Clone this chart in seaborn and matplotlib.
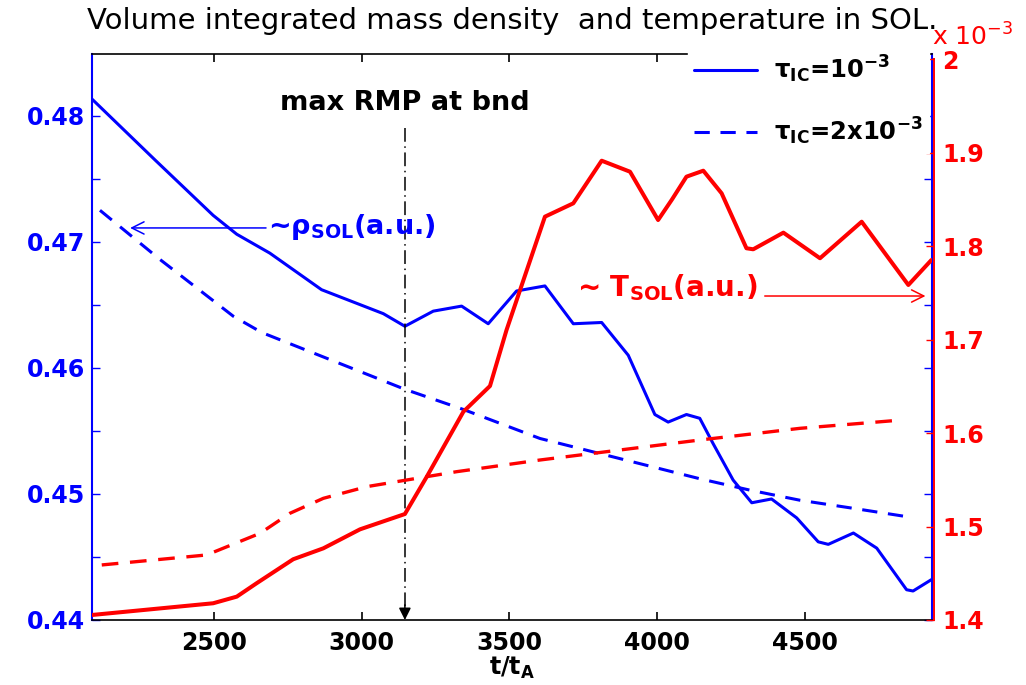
import matplotlib
matplotlib.use('Agg')
import matplotlib.pyplot as plt
import seaborn as sns
from matplotlib.ticker import MultipleLocator, FuncFormatter, FixedLocator

# ---------------- data ----------------
# density, tau_IC = 1e-3 (solid blue)
t_rho1 = [2088, 2300, 2497, 2577, 2689, 2864, 3073, 3146, 3242, 3338, 3428, 3524,
          3620, 3716, 3812, 3902, 3992, 4037, 4099, 4144, 4189, 4257, 4320, 4387,
          4472, 4545, 4579, 4664, 4743, 4844, 4866, 4928]
rho1 = [0.4813, 0.4765, 0.4721, 0.4706, 0.4691, 0.4662, 0.4643, 0.4633, 0.4645, 0.4649,
        0.4635, 0.4661, 0.4665, 0.4635, 0.4636, 0.4610, 0.4563, 0.4557, 0.4563, 0.4560,
        0.4540, 0.4511, 0.4493, 0.4496, 0.4481, 0.4462, 0.4460, 0.4469, 0.4457, 0.4424,
        0.4423, 0.4432]
# density, tau_IC = 2e-3 (dashed blue)
t_rho2 = [2114, 2317, 2565, 2662, 3146, 3344, 3603, 4145, 4314, 4483, 4652, 4844]
rho2 = [0.4725, 0.4686, 0.4641, 0.4628, 0.4583, 0.4567, 0.4544, 0.4512, 0.4503,
        0.4495, 0.4489, 0.4482]
# temperature (x1e-3), tau_IC = 1e-3 (solid red)
t_T1 = [2088, 2497, 2577, 2644, 2768, 2870, 2994, 3146, 3220, 3344, 3434, 3490, 3620,
        3716, 3812, 3908, 4003, 4050, 4099, 4156, 4218, 4302, 4325, 4427, 4551, 4692,
        4850, 4928]
T1 = [1.4054, 1.4179, 1.4250, 1.4393, 1.4650, 1.4767, 1.4970, 1.5134, 1.5533, 1.6229,
      1.6504, 1.7103, 1.8316, 1.8459, 1.8915, 1.8797, 1.8280, 1.8500, 1.8744, 1.8808,
      1.8566, 1.7978, 1.7967, 1.8145, 1.7871, 1.8262, 1.7585, 1.7852]
# temperature (x1e-3), tau_IC = 2e-3 (dashed red)
t_T2 = [2120, 2475, 2656, 2757, 2870, 3017, 3152, 3321, 3603, 4144, 4483, 4827]
T2 = [1.4589, 1.4696, 1.4928, 1.5142, 1.5302, 1.5427, 1.5498, 1.5587, 1.5712, 1.5926,
      1.6051, 1.6140]

t_rmp = 3146
x_ticks = [2500, 3000, 3500, 4000, 4500]
rho_ticks = [0.44, 0.45, 0.46, 0.47, 0.48]
T_ticks = [1.4, 1.5, 1.6, 1.7, 1.8, 1.9, 2.0]
legend_labels = [r'$\tau_{\rm IC}$=10$^{-3}$', r'$\tau_{\rm IC}$=2x10$^{-3}$']
title = 'Volume integrated mass density  and temperature in SOL.'

# ---------------- style ----------------
sns.set_style('white')
plt.rcParams['font.family'] = ['DejaVu Sans']
plt.rcParams['font.weight'] = 'bold'
plt.rcParams['mathtext.default'] = 'regular'
plt.rcParams['text.color'] = 'black'
plt.rcParams['axes.labelcolor'] = 'black'

BLUE = '#0000ff'
RED = '#ff0000'

fig = plt.figure(figsize=(10.26, 6.85), dpi=100)
ax = fig.add_axes([0.08996, 0.0949, 0.8187, 0.8263])
ax2 = ax.twinx()

dash = (0, (5, 3.5))
sns.lineplot(x=t_rho1, y=rho1, ax=ax, color=BLUE, lw=2.2, label=legend_labels[0], legend=False)
sns.lineplot(x=t_rho2, y=rho2, ax=ax, color=BLUE, lw=2.2, linestyle=dash, label=legend_labels[1], legend=False)
sns.lineplot(x=t_T1, y=T1, ax=ax2, color=RED, lw=2.9, legend=False)
sns.lineplot(x=t_T2, y=T2, ax=ax2, color=RED, lw=2.4, linestyle=dash, legend=False)

ax.set_xlim(2088, 4931)
ax.set_ylim(0.44, 0.4849)
ax2.set_ylim(1.4, 2.0057)

# ticks
fmt = FuncFormatter(lambda v, p: '{:g}'.format(round(v, 4)))
ax.xaxis.set_major_locator(FixedLocator(x_ticks))
ax.yaxis.set_major_locator(FixedLocator(rho_ticks))
ax.yaxis.set_minor_locator(MultipleLocator(0.005))
ax.yaxis.set_major_formatter(fmt)
ax2.yaxis.set_major_locator(FixedLocator(T_ticks))
ax2.yaxis.set_major_formatter(fmt)

ax.tick_params(axis='x', which='both', direction='in', length=6, width=1.2, top=True,
               bottom=True, labelsize=17, pad=8, colors='black')
ax.tick_params(axis='y', which='both', direction='in', length=6, width=1, left=True,
               right=True, labelright=False, labelsize=17, pad=5, colors=BLUE)
ax2.tick_params(axis='y', which='both', direction='in', length=6, width=1, right=True,
                labelsize=17, pad=6, colors=RED)

for s in ['top', 'bottom']:
    ax.spines[s].set_color('black')
    ax.spines[s].set_linewidth(1.2)
ax.spines['left'].set_color(BLUE)
ax.spines['right'].set_color(BLUE)
ax.spines['left'].set_linewidth(1.5)
ax.spines['right'].set_linewidth(1.5)
for s in ['top', 'bottom', 'left']:
    ax2.spines[s].set_visible(False)
ax2.spines['right'].set_color(RED)
ax2.spines['right'].set_linewidth(1.4)
ax2.spines['right'].set_position(('outward', 1.1))
ax2.spines['right'].set_bounds(1.4, 2.0)

ax.set_xlabel(r't/t$_A$', fontsize=17, fontweight='bold', labelpad=0, color='black')
ax.set_ylabel('')
ax2.set_ylabel('')

# vertical marker
ax.plot([t_rmp, t_rmp], [0.4790, 0.4402], color='black', lw=1.1,
        linestyle=(0, (9, 3, 1, 3)))
ax.annotate('', xy=(t_rmp, 0.44), xytext=(t_rmp, 0.4412),
            arrowprops=dict(arrowstyle='-|>', color='black', lw=1.1,
                            mutation_scale=18, shrinkA=0, shrinkB=0))
ax.text(t_rmp, 0.4810, 'max RMP at bnd', ha='center', va='center', fontsize=19.5,
        color='black')

# annotations
ax.text(2683, 0.4712, r'~$\rho_{\rm SOL}$(a.u.)', ha='left', va='center', fontsize=19.5,
        color=BLUE)
ax.annotate('', xy=(2216, 0.4711), xytext=(2676, 0.4711),
            arrowprops=dict(arrowstyle='->', color=BLUE, lw=1.1, mutation_scale=22,
                            shrinkA=0, shrinkB=0))
ax2.text(3728, 1.7560, r'~ T$_{\rm SOL}$(a.u.)', ha='left', va='center', fontsize=20,
         color=RED)
ax2.annotate('', xy=(4908, 1.7467), xytext=(4364, 1.7467),
             arrowprops=dict(arrowstyle='->', color=RED, lw=1.1, mutation_scale=22,
                             shrinkA=0, shrinkB=0))

# legend (white box over top-right corner)
handles = ax.get_lines()[:2]
leg = ax2.legend(handles, legend_labels, loc='upper right',
                 bbox_to_anchor=(929 / 1026, 1 - 48 / 685), bbox_transform=fig.transFigure,
                 frameon=True, facecolor='white', edgecolor='white', fancybox=False,
                 framealpha=1, labelspacing=1.25, handlelength=2.6,
                 handletextpad=0.7, borderpad=0.25, borderaxespad=0,
                 labelcolor='black', prop={'weight': 'bold', 'size': 17.5})
leg.set_zorder(10)

fig.text(512 / 1026, 1 - 21 / 685, title, ha='center', va='center', fontsize=21,
         color='black', fontweight='normal')
fig.text(932 / 1026, 1 - 46 / 685, r'x 10$^{-3}$', ha='left', va='baseline', fontsize=18,
         color=RED, fontweight='normal')

fig.savefig('out.png', dpi=100)
